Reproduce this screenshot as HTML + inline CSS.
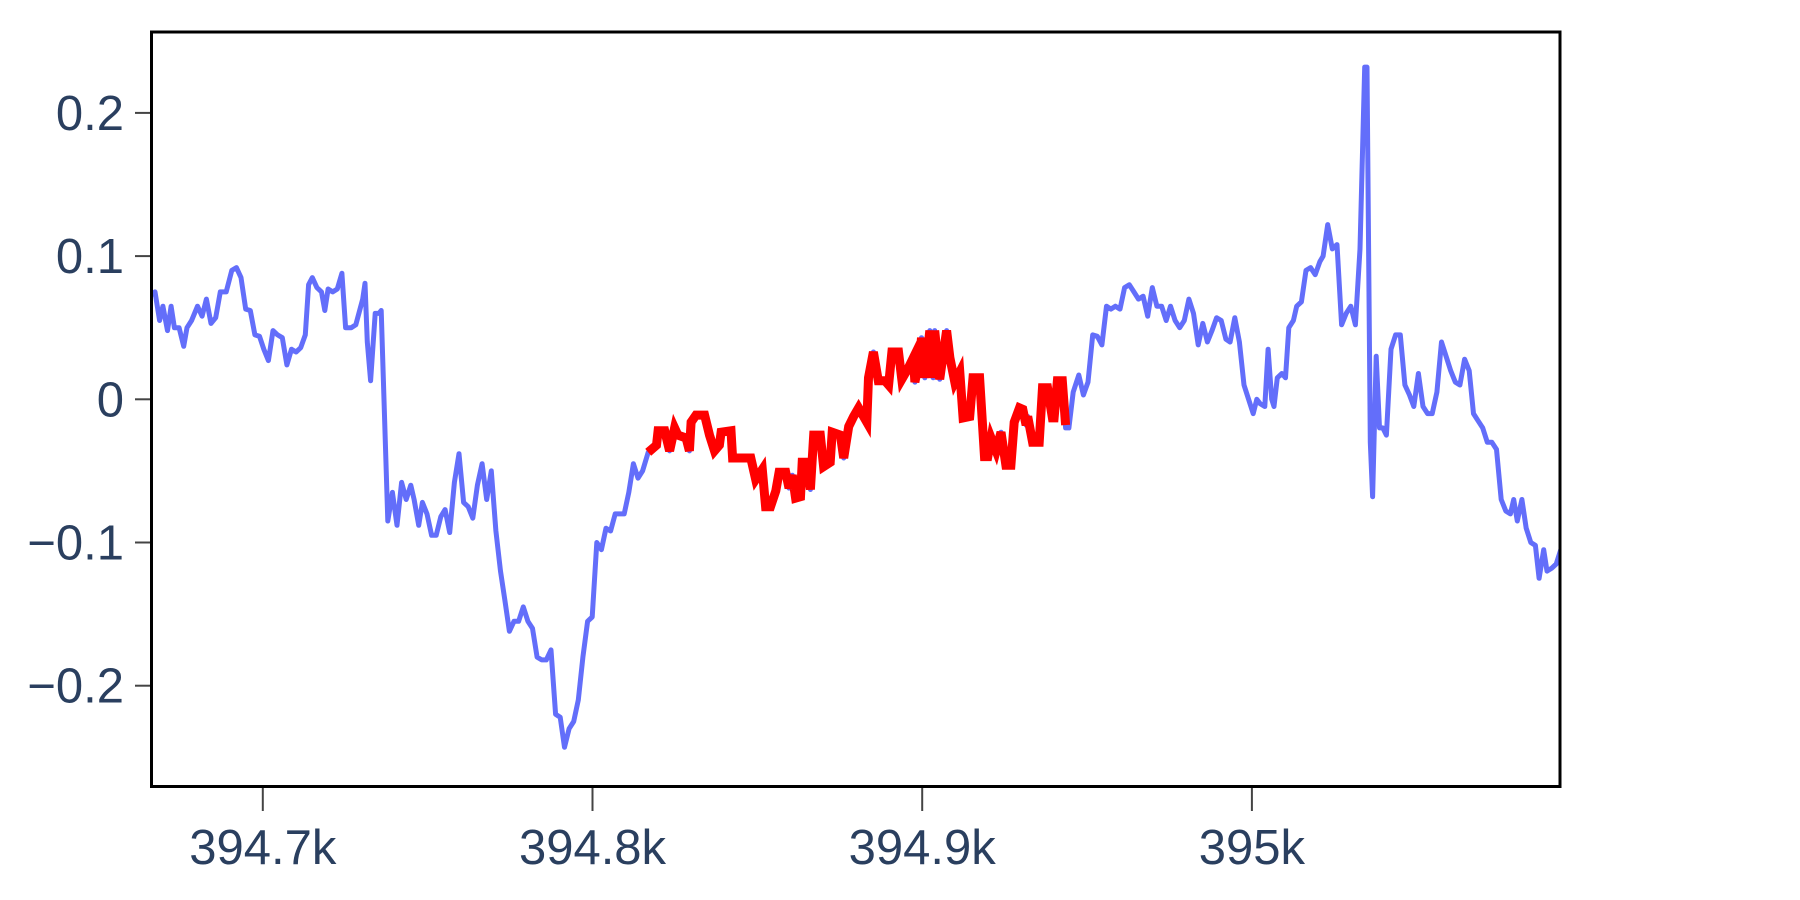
<!DOCTYPE html>
<html>
<head>
<meta charset="utf-8">
<style>
html,body{margin:0;padding:0;background:#fff;}
svg{display:block;}
text{font-family:"Liberation Sans",Arial,sans-serif;fill:#2a3f5f;}
</style>
</head>
<body>
<svg id="chart" width="1800" height="900" viewBox="0 0 1800 900" xmlns="http://www.w3.org/2000/svg">
  <rect x="0" y="0" width="1800" height="900" fill="#fff"/>
  <g id="marks"></g>
  <g id="axes"></g>
  <rect x="151.5" y="32" width="1408.5" height="754.5" fill="none" stroke="#000" stroke-width="3"/>
</svg>
<script>
const xTicks = [394700, 394800, 394900, 395000];
const xTickLabels = ["394.7k", "394.8k", "394.9k", "395k"];
const yTicks = [0.2, 0.1, 0, -0.1, -0.2];
const yTickLabels = ["0.2", "0.1", "0", "\u22120.1", "\u22120.2"];

const blueX = [394666.2,394667.3,394668.7,394669.7,394671.1,394672.2,394673.2,394674.6,394676.0,394677.0,394678.4,394680.2,394681.6,394682.9,394684.3,394685.7,394687.1,394688.9,394690.6,394692.0,394693.4,394694.8,394696.2,394697.6,394699.0,394700.3,394701.7,394703.1,394704.5,394705.9,394707.3,394708.7,394710.1,394711.5,394712.9,394713.9,394715.0,394716.4,394717.8,394718.8,394719.8,394721.2,394722.6,394724.0,394725.1,394726.8,394728.2,394729.6,394730.3,394731.0,394731.7,394732.7,394734.1,394735.2,394735.9,394737.9,394739.3,394740.7,394742.1,394743.5,394744.9,394745.9,394747.3,394748.4,394749.8,394751.2,394752.6,394754.0,394755.3,394756.7,394758.1,394759.5,394760.9,394762.3,394763.7,394765.1,394766.5,394767.9,394769.3,394770.7,394772.1,394773.4,394774.8,394776.2,394777.6,394779.0,394780.4,394781.8,394783.2,394784.6,394786.0,394787.4,394788.8,394790.2,394791.5,394792.9,394794.3,394795.7,394797.1,394798.5,394799.9,394801.3,394802.7,394804.1,394805.5,394806.9,394808.3,394809.6,394811.0,394812.4,394813.8,394815.2,
394816.9,394819.4,394819.9,394821.9,394823.4,394824.9,394825.9,394828.4,394829.4,394829.9,394831.4,394834.0,394835.5,394837.0,394838.5,394839.0,394842.0,394842.5,394846.0,394848.0,394849.5,394851.5,394852.5,394854.0,394855.6,394856.6,394858.6,394859.6,394860.6,394861.6,394863.1,394863.6,394865.1,394866.1,394867.1,394869.1,394870.1,394872.1,394872.7,394875.2,394876.2,394877.7,394879.2,394880.7,394883.2,394883.7,394885.2,394886.7,394888.7,394889.8,394890.8,394892.8,394893.8,394895.8,394897.3,394897.8,394899.3,394899.8,394900.8,394902.3,394903.3,394903.8,394905.3,394907.4,394908.4,394909.9,394911.4,394912.4,394914.4,394915.4,394917.4,394918.9,394919.9,394920.9,394922.4,394923.9,394925.4,394926.9,394927.9,394929.5,394930.5,394931.5,394932.0,394933.5,394935.5,394936.5,394938.0,394939.5,394940.0,394941.0,394942.5,394943.5,
394944.5,394945.8,394947.5,394948.9,394950.3,394951.7,394953.1,394954.5,394955.9,394957.2,394958.6,394960.0,394961.4,394962.8,394964.2,394965.6,394967.0,394968.4,394969.8,394971.2,394972.6,394974.0,394975.3,394976.7,394978.1,394979.5,394980.9,394982.3,394983.7,394985.1,394986.5,394987.9,394989.3,394990.7,394992.1,394993.4,394994.8,394996.2,394997.6,394999.0,395000.4,395001.5,395002.5,395003.9,395004.9,395006.0,395006.7,395007.7,395009.1,395010.2,395011.2,395012.6,395013.6,395015.0,395016.4,395017.8,395019.2,395020.6,395021.6,395023.0,395024.4,395025.8,395027.2,395028.6,395030.0,395031.4,395032.8,395034.2,395034.9,395035.9,395036.6,395037.7,395038.7,395039.7,395040.8,395042.2,395043.6,395045.0,395046.4,395047.8,395049.1,395050.5,395051.9,395053.3,395054.7,395056.1,395057.5,395058.9,395060.3,395061.7,395063.1,395064.5,395065.9,395067.2,395068.6,395070.0,395071.4,395072.8,395074.2,395075.6,395077.0,395078.4,395079.4,395080.5,395081.9,395083.2,395084.6,395086.0,395087.1,395088.5,395089.5,395090.9,395092.3,395093.7];
const blueY = [0.073,0.075,0.055,0.065,0.048,0.065,0.05,0.05,0.037,0.05,0.055,0.065,0.058,0.07,0.053,0.057,0.075,0.075,0.09,0.092,0.085,0.063,0.062,0.045,0.044,0.035,0.027,0.048,0.045,0.043,0.024,0.035,0.033,0.036,0.045,0.08,0.085,0.078,0.075,0.062,0.077,0.075,0.077,0.088,0.05,0.05,0.052,0.064,0.07,0.081,0.04,0.013,0.06,0.06,0.062,-0.085,-0.065,-0.088,-0.058,-0.07,-0.06,-0.07,-0.088,-0.072,-0.08,-0.095,-0.095,-0.082,-0.077,-0.093,-0.058,-0.038,-0.072,-0.075,-0.083,-0.06,-0.045,-0.07,-0.05,-0.092,-0.12,-0.14,-0.162,-0.155,-0.155,-0.145,-0.155,-0.16,-0.18,-0.182,-0.182,-0.175,-0.22,-0.222,-0.243,-0.23,-0.225,-0.21,-0.18,-0.155,-0.152,-0.1,-0.105,-0.09,-0.092,-0.08,-0.08,-0.08,-0.065,-0.045,-0.055,-0.05,
-0.037,-0.032,-0.022,-0.022,-0.036,-0.020,-0.025,-0.027,-0.036,-0.016,-0.011,-0.011,-0.025,-0.036,-0.032,-0.023,-0.022,-0.041,-0.041,-0.041,-0.056,-0.049,-0.075,-0.075,-0.064,-0.051,-0.051,-0.062,-0.053,-0.069,-0.068,-0.044,-0.044,-0.063,-0.025,-0.025,-0.047,-0.044,-0.023,-0.025,-0.041,-0.019,-0.012,-0.006,-0.016,0.015,0.033,0.013,0.013,0.010,0.033,0.033,0.014,0.022,0.029,0.012,0.030,0.043,0.015,0.048,0.015,0.048,0.014,0.048,0.029,0.012,0.019,-0.013,-0.012,0.015,0.015,-0.040,-0.040,-0.027,-0.036,-0.023,-0.046,-0.046,-0.016,-0.006,-0.007,-0.018,-0.012,-0.030,-0.030,0.008,0.008,-0.013,-0.013,0.013,0.013,-0.020,-0.020,
0.005,0.017,0.003,0.012,0.045,0.044,0.038,0.065,0.063,0.065,0.063,0.078,0.08,0.075,0.07,0.072,0.058,0.078,0.065,0.065,0.055,0.065,0.055,0.05,0.055,0.07,0.06,0.038,0.053,0.04,0.048,0.057,0.055,0.042,0.04,0.057,0.04,0.01,0.0,-0.01,0.0,-0.003,-0.005,0.035,0.0,-0.005,0.015,0.018,0.015,0.05,0.055,0.065,0.068,0.09,0.092,0.087,0.096,0.1,0.122,0.105,0.108,0.052,0.06,0.065,0.052,0.105,0.232,0.232,-0.03,-0.068,0.03,-0.02,-0.02,-0.025,0.035,0.045,0.045,0.01,0.003,-0.005,0.018,-0.005,-0.01,-0.01,0.005,0.04,0.03,0.02,0.012,0.01,0.028,0.02,-0.01,-0.015,-0.02,-0.03,-0.03,-0.035,-0.07,-0.078,-0.08,-0.07,-0.085,-0.07,-0.09,-0.1,-0.102,-0.125,-0.105,-0.12,-0.118,-0.115,-0.105];

const redX = [394816.9,394819.4,394819.9,394821.9,394823.4,394824.9,394825.9,394828.4,394829.4,394829.9,394831.4,394834.0,394835.5,394837.0,394838.5,394839.0,394842.0,394842.5,394846.0,394848.0,394849.5,394851.5,394852.5,394854.0,394855.6,394856.6,394858.6,394859.6,394860.6,394861.6,394863.1,394863.6,394865.1,394866.1,394867.1,394869.1,394870.1,394872.1,394872.7,394875.2,394876.2,394877.7,394879.2,394880.7,394883.2,394883.7,394885.2,394886.7,394888.7,394889.8,394890.8,394892.8,394893.8,394895.8,394897.3,394897.8,394899.3,394899.8,394900.8,394902.3,394903.3,394903.8,394905.3,394907.4,394908.4,394909.9,394911.4,394912.4,394914.4,394915.4,394917.4,394918.9,394919.9,394920.9,394922.4,394923.9,394925.4,394926.9,394927.9,394929.5,394930.5,394931.5,394932.0,394933.5,394935.5,394936.5,394938.0,394939.5,394940.0,394941.0,394942.5,394943.5];
const redY = [-0.037,-0.032,-0.022,-0.022,-0.036,-0.020,-0.025,-0.027,-0.036,-0.016,-0.011,-0.011,-0.025,-0.036,-0.032,-0.023,-0.022,-0.041,-0.041,-0.041,-0.056,-0.049,-0.075,-0.075,-0.064,-0.051,-0.051,-0.062,-0.053,-0.069,-0.068,-0.044,-0.044,-0.063,-0.025,-0.025,-0.047,-0.044,-0.023,-0.025,-0.041,-0.019,-0.012,-0.006,-0.016,0.015,0.033,0.013,0.013,0.010,0.033,0.033,0.014,0.022,0.029,0.012,0.030,0.043,0.015,0.048,0.015,0.048,0.014,0.048,0.029,0.012,0.019,-0.013,-0.012,0.015,0.015,-0.040,-0.040,-0.027,-0.036,-0.023,-0.046,-0.046,-0.016,-0.006,-0.007,-0.018,-0.012,-0.030,-0.030,0.008,0.008,-0.013,-0.013,0.013,0.013,-0.018];

function xScale(v){ return 262.8 + (v - 394700) * 3.297; }
function yScale(v){ return 399.3 - v * 1432; }

const NS = "http://www.w3.org/2000/svg";
const marks = document.getElementById("marks");
const axes = document.getElementById("axes");

const clip = document.createElementNS(NS, "clipPath");
clip.setAttribute("id", "plotclip");
const cr = document.createElementNS(NS, "rect");
cr.setAttribute("x", 151.5); cr.setAttribute("y", 32);
cr.setAttribute("width", 1408.5); cr.setAttribute("height", 754.5);
clip.appendChild(cr);
document.getElementById("chart").appendChild(clip);
marks.setAttribute("clip-path", "url(#plotclip)");

function pathD(xs, ys){
  let d = "";
  for (let i = 0; i < xs.length; i++){
    d += (i ? "L" : "M") + xScale(xs[i]).toFixed(1) + "," + yScale(ys[i]).toFixed(1);
  }
  return d;
}

const blue = document.createElementNS(NS, "path");
blue.setAttribute("d", pathD(blueX, blueY));
blue.setAttribute("fill", "none");
blue.setAttribute("stroke", "#636efa");
blue.setAttribute("stroke-width", "5");
blue.setAttribute("stroke-linejoin", "round");


marks.appendChild(blue);

const red = document.createElementNS(NS, "path");
red.setAttribute("d", pathD(redX, redY));
red.setAttribute("fill", "none");
red.setAttribute("stroke", "#ff0000");
red.setAttribute("stroke-width", "9");
red.setAttribute("stroke-linejoin", "miter");


marks.appendChild(red);

xTicks.forEach((t, i) => {
  const x = xScale(t);
  const ln = document.createElementNS(NS, "line");
  ln.setAttribute("x1", x); ln.setAttribute("x2", x);
  ln.setAttribute("y1", 788); ln.setAttribute("y2", 811);
  ln.setAttribute("stroke", "#444"); ln.setAttribute("stroke-width", "2");
  
  
  axes.appendChild(ln);
  const tx = document.createElementNS(NS, "text");
  tx.setAttribute("x", x); tx.setAttribute("y", 864);
  tx.setAttribute("text-anchor", "middle");
  tx.setAttribute("font-size", "49");
  tx.textContent = xTickLabels[i];
  
  
  axes.appendChild(tx);
});

yTicks.forEach((t, i) => {
  const y = yScale(t);
  const ln = document.createElementNS(NS, "line");
  ln.setAttribute("x1", 135); ln.setAttribute("x2", 151);
  ln.setAttribute("y1", y); ln.setAttribute("y2", y);
  ln.setAttribute("stroke", "#444"); ln.setAttribute("stroke-width", "2");
  
  
  axes.appendChild(ln);
  const tx = document.createElementNS(NS, "text");
  tx.setAttribute("x", 124); tx.setAttribute("y", y + 17);
  tx.setAttribute("text-anchor", "end");
  tx.setAttribute("font-size", "49");
  tx.textContent = yTickLabels[i];
  
  
  axes.appendChild(tx);
});
</script>
</body>
</html>
